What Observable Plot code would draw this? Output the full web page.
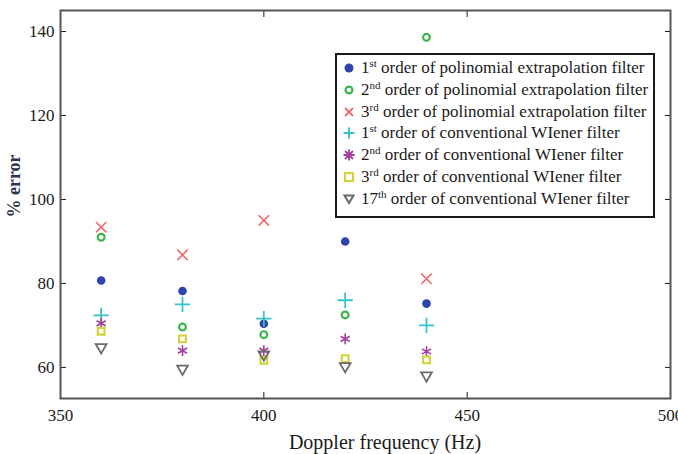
<!DOCTYPE html>
<html><head><meta charset="utf-8">
<script src="https://cdn.jsdelivr.net/npm/d3@7"></script>
<script src="https://cdn.jsdelivr.net/npm/@observablehq/plot@0.6"></script>
<style>
body{margin:0;background:#fff;}
#wrap{position:relative;width:678px;height:454px;overflow:hidden;font-family:"Liberation Serif","Times New Roman",serif;}
#wrap svg text{font-family:"Liberation Serif","Times New Roman",serif !important;}
#legend{position:absolute;left:335px;top:53px;width:320px;height:165px;box-sizing:border-box;border:2px solid #1a1a1a;background:#fff;font-size:17px;color:#1a1a1a;}
.row{position:absolute;left:0;height:22px;line-height:22px;white-space:nowrap;}
.row svg{position:absolute;left:5px;top:4px;}
.row span{position:absolute;left:24px;top:0;}
sup{font-size:11px;vertical-align:6px;line-height:0;}
#xl{position:absolute;left:385px;top:442px;transform:translate(-50%,-50%);font-size:20px;color:#1a1a1a;white-space:nowrap;}
#yl{position:absolute;left:14px;top:186px;transform:translate(-50%,-50%) rotate(-90deg);font-size:18px;font-weight:bold;color:#2b3550;white-space:nowrap;}
</style></head>
<body><div id="wrap"><div id="chart"></div>
<div id="xl">Doppler frequency (Hz)</div>
<div id="yl">% error</div>
<div id="legend"></div>
</div>
<script>
const freqs = [360, 380, 400, 420, 440];
const poly1 = [80.7, 78.2, 70.4, 90.0, 75.2];
const poly2 = [91.0, 69.6, 67.8, 72.5, 138.6];
const poly3 = [93.4, 86.8, 95.0, null, 81.1];
const wien1 = [72.4, 75.0, 71.6, 76.0, 70.0];
const wien2 = [70.5, 64.0, 64.0, 66.8, 63.8];
const wien3 = [68.6, 66.8, 61.7, 62.1, 61.8];
const wien17 = [64.8, 59.7, 63.1, 60.3, 58.1];
const xTicks = [350, 400, 450, 500];
const yTicks = [60, 80, 100, 120, 140];
const seriesNames = [
  ["1","st","order of polinomial extrapolation filter"],
  ["2","nd","order of polinomial extrapolation filter"],
  ["3","rd","order of polinomial extrapolation filter"],
  ["1","st","order of conventional WIener filter"],
  ["2","nd","order of conventional WIener filter"],
  ["3","rd","order of conventional WIener filter"],
  ["17","th","order of conventional WIener filter"]
];

const C = {blue:"#2e44a8", green:"#3ab54a", red:"#f06a6c", cyan:"#38c2cc", mag:"#a3409f", yel:"#d2d23a", gray:"#6b6b6b"};
const toRows = (vals) => freqs.map((f,i)=>({f, v: vals[i]})).filter(d => d.v != null);

const chart = Plot.plot({
  width: 678, height: 454,
  marginLeft: 60, marginRight: 8, marginTop: 10, marginBottom: 56,
  x: {domain: [350, 500]},
  y: {domain: [52.6, 145]},
  style: {fontFamily: "'Liberation Serif', serif", fontSize: "17px", color: "#1a1a1a", background: "#fff"},
  marks: [
    Plot.axisX({anchor: "bottom", ticks: xTicks, tickSize: -6, tickPadding: 16, label: null, fontSize: 17}),
    Plot.axisX({anchor: "top", ticks: xTicks, tickSize: -6, tickFormat: () => "", label: null}),
    Plot.axisY({anchor: "left", ticks: yTicks, tickSize: -6, tickPadding: 12, label: null, fontSize: 17}),
    Plot.axisY({anchor: "right", ticks: yTicks, tickSize: -6, tickFormat: () => "", label: null}),
    Plot.frame({stroke: "#555", strokeWidth: 2}),
    Plot.dot(toRows(poly1), {x: "f", y: "v", r: 4.3, fill: C.blue, stroke: "none"}),
    Plot.dot(toRows(poly2), {x: "f", y: "v", r: 3.4, stroke: C.green, strokeWidth: 2.2, fill: "none"}),
    Plot.dot(toRows(poly3), {x: "f", y: "v", r: 4.8, symbol: "times", stroke: C.red, strokeWidth: 1.6}),
    Plot.dot(toRows(wien1), {x: "f", y: "v", r: 5, symbol: "plus", stroke: C.cyan, strokeWidth: 1.8}),
    Plot.dot(toRows(wien2), {x: "f", y: "v", r: 5, symbol: "asterisk", stroke: C.mag, strokeWidth: 1.6}),
    Plot.dot(toRows(wien3), {x: "f", y: "v", r: 3.8, symbol: "square", stroke: C.yel, strokeWidth: 2.2, fill: "none"}),
    Plot.dot(toRows(wien17), {x: "f", y: "v", r: 4, symbol: "triangle", rotate: 180, stroke: C.gray, strokeWidth: 1.8, fill: "none"})
  ]
});
document.getElementById("chart").appendChild(chart);

// legend
const symSvgs = [
  `<circle cx="7" cy="7" r="4.5" fill="${C.blue}"/>`,
  `<circle cx="7" cy="7" r="3.4" fill="none" stroke="${C.green}" stroke-width="2.2"/>`,
  `<path d="M3,3L11,11M11,3L3,11" stroke="${C.red}" stroke-width="1.8"/>`,
  `<path d="M7,1.5V12.5M1.5,7H12.5" stroke="${C.cyan}" stroke-width="2"/>`,
  `<path d="M7,1.5V12.5M1.5,7H12.5M3,3L11,11M11,3L3,11" stroke="${C.mag}" stroke-width="1.8"/>`,
  `<rect x="3" y="3" width="8" height="8" fill="none" stroke="${C.yel}" stroke-width="2.2"/>`,
  `<path d="M2.5,3.5H11.5L7,11Z" fill="none" stroke="${C.gray}" stroke-width="2"/>`
];
const leg = document.getElementById("legend");
seriesNames.forEach((n, i) => {
  const row = document.createElement("div");
  row.className = "row";
  row.style.top = (2 + i * 21.8) + "px";
  row.innerHTML = `<svg width="14" height="14">${symSvgs[i]}</svg><span>${n[0]}<sup>${n[1]}</sup> ${n[2]}</span>`;
  leg.appendChild(row);
});
</script>
</body></html>
